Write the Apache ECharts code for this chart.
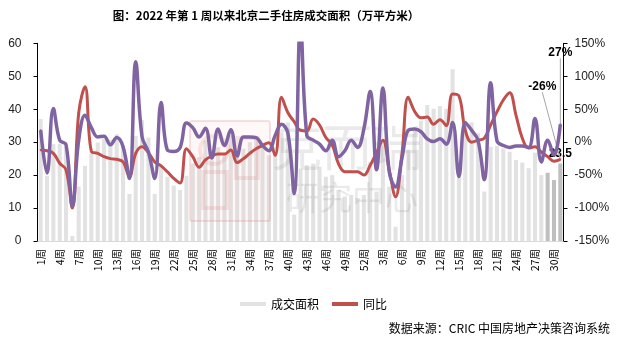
<!DOCTYPE html>
<html>
<head>
<meta charset="utf-8">
<script src="https://cdn.jsdelivr.net/npm/echarts@6/dist/echarts.min.js"></script>
<style>
  html, body { margin: 0; padding: 0; background: #ffffff; }
  #chart { width: 625px; height: 343px; }
</style>
</head>
<body>
<div id="chart"></div>
<script>
// Weekly second-hand housing transactions in Beijing, 2022 W1 – 2023 W31
const weeksIn2022 = 52;
const weeksIn2023 = 31;

// Tick labels for every week (every third one is shown)
const weekLabels = [];
for (let w = 1; w <= weeksIn2022; w++) weekLabels.push(w + '周');
for (let w = 1; w <= weeksIn2023; w++) weekLabels.push(w + '周');
const categoryKeys = weekLabels.map((lab, i) => (i < weeksIn2022 ? '2022-' : '2023-') + lab);

// 成交面积 (万平方米)
const areaValues = [
  37, 19.8, 29.4, 29.5, 28.5, 1.5, 16.5, 22.8, 26.6, 29.9,
  31, 30.7, 32.4, 29, 14.3, 31.9, 36.7, 31.4, 14.3, 23,
  19.5, 16.8, 15.5, 19.8, 23.5, 25.5, 30.5, 24.5, 28.5, 26.5,
  32, 26, 28, 30, 31, 29.5, 26, 28.5, 33, 36,
  8, 22, 23, 23.5, 22.5, 19.5, 20, 15.5, 13.5, 14,
  13, 14, 24, 15, 29, 16.5, 4.3, 20, 27.7, 33.5,
  36.5, 41.3, 40.1, 41, 40.1, 52.1, 24, 35.7, 36, 32.7,
  15, 28.6, 28.8, 28.1, 27.1, 24.6, 23.8, 22.1, 26.8, 20,
  20.7, 18.5, 23.5
];

// 同比 (%)
const yoyValues = [
  -12, -13, -17, -32, -42, -100, 44, 84, -14, -17,
  -22, -25, -26, -30, -52, -17, -7, -16, -30, -36,
  -45, -55, -62, -10, -22, -38, -27, -21, -18, -18,
  -12, -31, -25, -17, -10, -5, -1, -20, 68, 45,
  31, 18, 17, 35, 26, 7, -4, -33, -45, -45,
  -45, -50, -35, -16, 3, -42, -83, -19, 68, 47,
  37, 38, 27, 34, 25, 73, 70, 18, 0, 3,
  6, 26, 46, 64, 75, 41, 6, -9, -7, -15,
  -22, -29, -26
];

// 环比 (%)
const wowValues = [
  18, -47, 51, 3, -4, -97, 3, 41, 22, 8,
  9, -4, 7, -7, -55, 122, 8, -15, -55, 60,
  -12, -14, -8, 29, 22, 8, 21, -24, 20, -5,
  19, -21, 8, 8, 7, -5, -13, 10, 27, 14,
  -78, 180, 10, 3, -3, -13, 3, -22, -13, 3,
  -8, 20, 77, -42, 82, -45, -68, -25, 18, 20,
  16, 5, 1, 5, -3, 30, -52, 30, 18, 3,
  -57, 90, 2, -5, -8, -6, -6, -8, 36, -30,
  3, -20, 27
];

// Left axis (area) and right axis (percent) ranges
const areaAxis = { min: 0, max: 60, interval: 10 };
const pctAxis = { min: -150, max: 150, interval: 50 };

const barColor = '#e2e2e2';
const barRecentColor = '#bfbfbf';
const yoyColor = '#c0504d';
const wowColor = '#8064a2';
const highlightCount = 3; // most recent weeks drawn darker
const lastIndex = areaValues.length - 1;

const fontCJK = '"Noto Sans CJK SC", "Liberation Sans", sans-serif';
const fontNum = '"Liberation Sans", "Noto Sans CJK SC", sans-serif';

const endLabel = (text) => ({
  show: true, position: 'top', formatter: text,
  fontWeight: 'bold', fontSize: 12, color: '#000', fontFamily: fontNum
});

const areaData = areaValues.map((v, i) => i === lastIndex
  ? { value: v, label: Object.assign(endLabel(String(v)), { distance: 4 }) } : v);
const yoyData = yoyValues.map((v, i) => i === lastIndex
  ? { value: v, label: endLabel(v + '%') } : v);
const wowData = wowValues.map((v, i) => i === lastIndex
  ? { value: v, label: endLabel(v + '%') } : v);

const chart = echarts.init(document.getElementById('chart'), null, { renderer: 'canvas' });

chart.setOption({
  animation: false,
  backgroundColor: '#ffffff',
  grid: { left: 37.5, right: 61.5, top: 43.3, bottom: 102, containLabel: false },
  legend: {
    data: [
      { name: '成交面积', icon: 'rect', itemStyle: { color: barColor } },
      { name: '同比', icon: 'rect', itemStyle: { color: yoyColor } }
    ],
    left: 235, top: 293,
    itemWidth: 26, itemHeight: 4, itemGap: 13,
    textStyle: { fontSize: 12, color: '#000', fontFamily: fontCJK }
  },
  graphic: [
    {
      type: 'text', x: 266, y: 16, z: 10,
      style: {
        text: '图：2022 年第 1 周以来北京二手住房成交面积（万平方米）',
        font: 'bold 11.5px ' + fontCJK, fill: '#000',
        textAlign: 'center', textVerticalAlign: 'middle'
      }
    },
    {
      type: 'text', x: 610, y: 328, z: 10,
      style: {
        text: '数据来源：CRIC 中国房地产决策咨询系统',
        font: '12px ' + fontCJK, fill: '#000',
        textAlign: 'right', textVerticalAlign: 'middle'
      }
    },
    // faint company watermark behind the lines
    {
      type: 'group', z: 3, silent: true,
      children: [
        {
          type: 'rect', z: 3,
          shape: { x: 190, y: 121, width: 80, height: 100, r: 2 },
          style: { fill: 'rgba(240,170,170,0.08)', stroke: 'rgba(220,120,120,0.22)', lineWidth: 2 }
        },
        {
          type: 'circle', z: 3,
          shape: { cx: 214, cy: 150, r: 14 },
          style: { fill: 'none', stroke: 'rgba(220,120,120,0.18)', lineWidth: 4 }
        },
        {
          type: 'rect', z: 3,
          shape: { x: 203, y: 172, width: 24, height: 36 },
          style: { fill: 'none', stroke: 'rgba(220,120,120,0.18)', lineWidth: 4 }
        },
        {
          type: 'rect', z: 3,
          shape: { x: 236, y: 138, width: 22, height: 40 },
          style: { fill: 'none', stroke: 'rgba(220,120,120,0.18)', lineWidth: 4 }
        },
        {
          type: 'text', z: 3, x: 272, y: 122,
          style: { text: '克而瑞', font: '50px ' + fontCJK, fill: 'rgba(150,150,150,0.2)' }
        },
        {
          type: 'text', z: 3, x: 286, y: 181,
          style: { text: '研究中心', font: '33px ' + fontCJK, fill: 'rgba(150,150,150,0.2)' }
        }
      ]
    }
  ],
  xAxis: {
    type: 'category',
    data: categoryKeys,
    boundaryGap: true,
    axisLine: { show: true, lineStyle: { color: '#d9d9d9', width: 1 } },
    axisTick: { show: false },
    axisLabel: {
      interval: 2, rotate: 90, margin: 8,
      fontSize: 10.5, color: '#000', fontFamily: fontCJK,
      formatter: (value, index) => weekLabels[index]
    },
    splitLine: { show: false }
  },
  yAxis: [
    {
      type: 'value', min: areaAxis.min, max: areaAxis.max, interval: areaAxis.interval,
      axisLine: { show: true, lineStyle: { color: '#000', width: 1 } },
      axisTick: { show: true, length: 4, lineStyle: { color: '#000' } },
      axisLabel: { margin: 16, fontSize: 12, color: '#222', fontFamily: fontNum },
      splitLine: { show: false }
    },
    {
      type: 'value', min: pctAxis.min, max: pctAxis.max, interval: pctAxis.interval,
      position: 'right',
      axisLine: { show: true, lineStyle: { color: '#000', width: 1 } },
      axisTick: { show: true, length: 4, lineStyle: { color: '#000' } },
      axisLabel: { margin: 11, fontSize: 12, color: '#222', fontFamily: fontNum, formatter: '{value}%' },
      splitLine: { show: false }
    }
  ],
  series: [
    {
      name: '成交面积',
      type: 'bar',
      yAxisIndex: 0,
      z: 1,
      barCategoryGap: '36%',
      itemStyle: {
        color: (p) => p.dataIndex > lastIndex - highlightCount ? barRecentColor : barColor
      },
      data: areaData
    },
    {
      name: '同比',
      type: 'line',
      yAxisIndex: 1,
      z: 5,
      smooth: 0.4,
      showSymbol: true,
      symbol: 'circle',
      symbolSize: 2,
      itemStyle: { color: yoyColor },
      lineStyle: { color: yoyColor, width: 3 },
      labelLayout: (p) => p.dataIndex === lastIndex ? { dx: -18, dy: -61 } : {},
      labelLine: { show: true, lineStyle: { color: '#a6a6a6', width: 1 } },
      data: yoyData
    },
    {
      name: '环比',
      type: 'line',
      yAxisIndex: 1,
      z: 6,
      smooth: 0.4,
      showSymbol: true,
      symbol: 'circle',
      symbolSize: 2,
      itemStyle: { color: wowColor },
      lineStyle: { color: wowColor, width: 3.5 },
      labelLayout: (p) => p.dataIndex === lastIndex ? { dy: -60 } : {},
      labelLine: { show: true, lineStyle: { color: '#a6a6a6', width: 1 } },
      data: wowData
    }
  ]
});
</script>
</body>
</html>
